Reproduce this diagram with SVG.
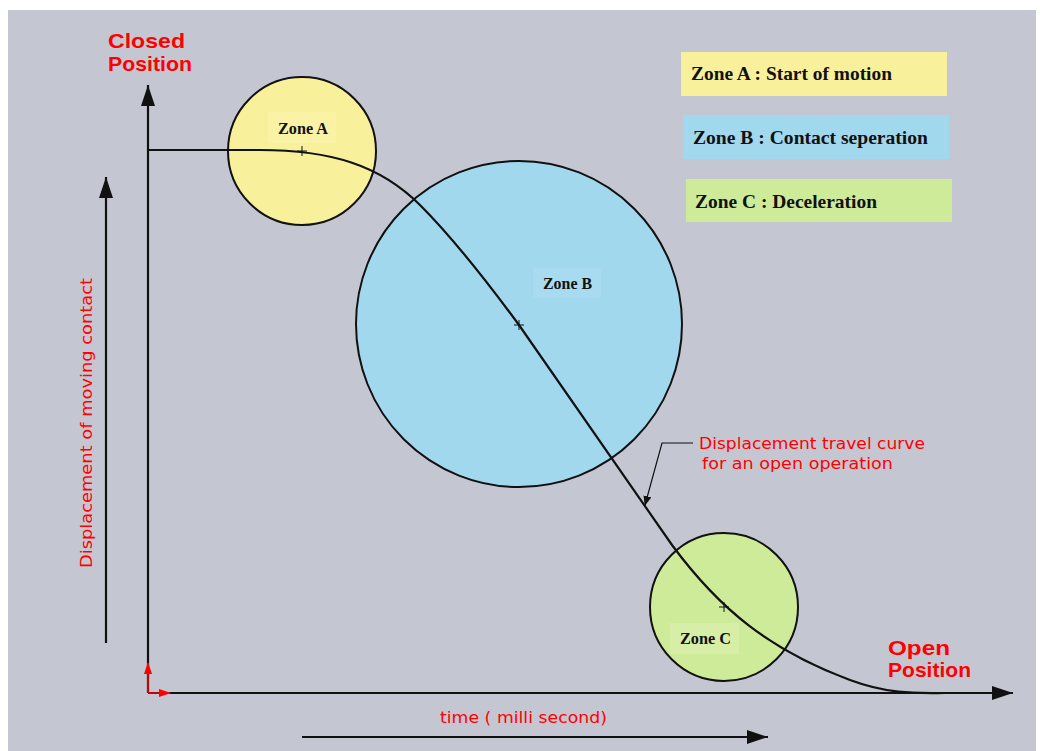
<svg xmlns="http://www.w3.org/2000/svg" width="1040" height="751" viewBox="0 0 1040 751">
<style>
.red{fill:#ff0000;font-family:"DejaVu Sans","Liberation Sans",Arial,sans-serif}
.big{font-size:21px;font-family:"Liberation Sans",Arial,sans-serif;font-weight:bold}
.lbl{font-family:"Liberation Serif","Times New Roman",serif;font-weight:bold;fill:#111}
.circ{stroke:#111;stroke-width:2}
.ax{stroke:#111;stroke-width:2.2;fill:none}
</style>
<defs>
<marker id="ah" markerWidth="10" markerHeight="8" refX="9" refY="4" orient="auto" markerUnits="userSpaceOnUse">
<path d="M0,0 L10,4 L0,8 Z" fill="#111"/>
</marker>
<marker id="big" markerWidth="22" markerHeight="16" refX="21" refY="8" orient="auto" markerUnits="userSpaceOnUse">
<path d="M0,1 L21,8 L0,15 Z" fill="#111"/>
</marker>
<marker id="rh" markerWidth="12" markerHeight="8" refX="11" refY="4" orient="auto" markerUnits="userSpaceOnUse">
<path d="M0,0 L12,4 L0,8 Z" fill="#ff0000"/>
</marker>
</defs>
<rect x="0" y="0" width="1040" height="751" fill="#ffffff"/>
<rect x="8" y="10" width="1028" height="741" fill="#c4c7d2"/>

<g id="zoneA">
<circle class="circ" cx="302" cy="151" r="74" fill="#f8f09a"/>
<rect x="268" y="112" width="68" height="31" fill="#faf3a6"/>
<text class="lbl" x="278" y="134" font-size="16" textLength="50" lengthAdjust="spacingAndGlyphs">Zone A</text>
</g>
<g id="zoneB">
<circle class="circ" cx="519" cy="324" r="163" fill="#a2d8ee"/>
<rect x="533" y="268" width="68" height="30" fill="#a8dbef"/>
<text class="lbl" x="543" y="289" font-size="16" textLength="49" lengthAdjust="spacingAndGlyphs">Zone B</text>
</g>
<g id="zoneC">
<circle class="circ" cx="724" cy="607" r="74" fill="#cdeb98"/>
<rect x="670" y="623" width="69" height="31" fill="#d6eea6"/>
<text class="lbl" x="680" y="644" font-size="16" textLength="51" lengthAdjust="spacingAndGlyphs">Zone C</text>
</g>

<g id="legend">
<rect x="681" y="52" width="266" height="44" fill="#f8f09a"/>
<text class="lbl" x="691" y="80" font-size="19" textLength="201" lengthAdjust="spacingAndGlyphs">Zone A : Start of motion</text>
<rect x="683" y="115" width="266" height="44" fill="#a2d8ee"/>
<text class="lbl" x="693" y="144" font-size="19" textLength="235" lengthAdjust="spacingAndGlyphs">Zone B : Contact seperation</text>
<rect x="686" y="179" width="266" height="43" fill="#cdeb98"/>
<text class="lbl" x="695" y="208" font-size="19" textLength="182" lengthAdjust="spacingAndGlyphs">Zone C : Deceleration</text>
</g>

<g id="connectors">
<line class="ax" x1="148" y1="693" x2="148" y2="85" marker-end="url(#big)"/>
<line class="ax" x1="148" y1="693" x2="1013" y2="693" marker-end="url(#big)"/>
<line class="ax" x1="106" y1="643" x2="106" y2="177" marker-end="url(#big)"/>
<line class="ax" x1="302" y1="737" x2="768" y2="737" marker-end="url(#big)"/>
<line x1="148" y1="693" x2="148" y2="663" stroke="#ff0000" stroke-width="1.5" marker-end="url(#rh)"/>
<line x1="148" y1="693" x2="170" y2="693" stroke="#ff0000" stroke-width="1.5" marker-end="url(#rh)"/>
<path id="curve" class="ax" stroke-width="2" d="M148,150 L260,150 C330,150 380,165 420,205 C450,235 480,272 519,325 L672,545 C720,610 770,650 850,680 C890,695 920,693 945,693"/>
<path d="M297,151 H307 M302,146 V156 M514,325 H524 M519,320 V330 M719,607 H729 M724,602 V612" stroke="#111" stroke-width="1"/>
<path d="M693,443 H662 L645,505" fill="none" stroke="#111" stroke-width="1.2" marker-end="url(#ah)"/>
</g>

<g id="labels">
<text class="red big" x="108" y="48" textLength="77" lengthAdjust="spacingAndGlyphs">Closed</text>
<text class="red big" x="108" y="71" textLength="84" lengthAdjust="spacingAndGlyphs">Position</text>
<text class="red big" x="888" y="655" textLength="62" lengthAdjust="spacingAndGlyphs">Open</text>
<text class="red big" x="888" y="677" textLength="83" lengthAdjust="spacingAndGlyphs">Position</text>
<text class="red" x="699" y="449" font-size="15" textLength="226" lengthAdjust="spacingAndGlyphs">Displacement travel curve</text>
<text class="red" x="702" y="469" font-size="15" textLength="191" lengthAdjust="spacingAndGlyphs">for an open operation</text>
<text class="red" x="440" y="723" font-size="15" textLength="167" lengthAdjust="spacingAndGlyphs">time ( milli second)</text>
<text class="red" font-size="15" transform="translate(92,568) rotate(-90)" textLength="290" lengthAdjust="spacingAndGlyphs">Displacement of moving contact</text>
</g>
</svg>
